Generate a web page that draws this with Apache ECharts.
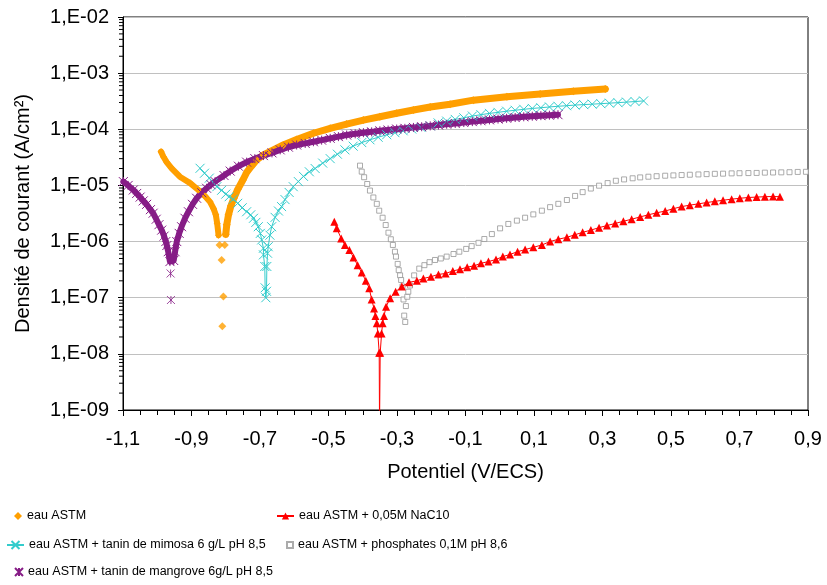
<!DOCTYPE html>
<html lang="fr">
<head>
<meta charset="UTF-8">
<title>Densité de courant - Potentiel</title>
<script src="https://cdn.jsdelivr.net/npm/echarts@6/dist/echarts.min.js"></script>
<style>
    html, body { margin: 0; padding: 0; background: #fff; }
    #chart { width: 827px; height: 585px; }
</style>
</head>
<body>
<div id="chart"></div>
<script>
// axes
var xMin = -1.1, xMax = 0.9, xStep = 0.2;
var yMin = 1e-9, yMax = 1e-2;
// log minor ticks (per decade)
var minorDecades = [-9, -8, -7, -6, -5, -4, -3];
var minorFactors = [2, 3, 4, 5, 6, 7, 8, 9];

var names = [
    'eau ASTM',
    'eau ASTM + 0,05M NaC10',
    'eau ASTM + tanin de mimosa 6 g/L pH 8,5',
    'eau ASTM + phosphates 0,1M pH 8,6',
    'eau ASTM + tanin de mangrove 6g/L pH 8,5'
];

// eau ASTM : [potentiel V/ECS, densité A/cm²]
var astmCathodic = [
    [-0.989, 4.0e-5], [-0.982, 3.24e-5], [-0.972, 2.58e-5], [-0.958, 2.02e-5], [-0.934, 1.43e-5],
    [-0.904, 1.1e-5], [-0.880, 8.3e-6], [-0.861, 6.5e-6], [-0.846, 5.1e-6], [-0.836, 3.9e-6],
    [-0.829, 3.0e-6], [-0.825, 2.1e-6], [-0.821, 1.3e-6]
];
var astmPoints = [
    [-0.818, 8.7e-7], [-0.812, 4.7e-7], [-0.807, 1.05e-7], [-0.810, 3.1e-8], [-0.803, 8.7e-7]
];
var astmAnodic = [
    [-0.800, 1.35e-6], [-0.797, 2.0e-6], [-0.792, 3.0e-6], [-0.785, 4.3e-6], [-0.776, 6.0e-6],
    [-0.765, 8.5e-6], [-0.750, 1.25e-5], [-0.739, 1.7e-5], [-0.725, 2.2e-5], [-0.710, 2.84e-5],
    [-0.690, 3.5e-5], [-0.671, 4.0e-5], [-0.632, 5.25e-5], [-0.593, 6.6e-5], [-0.544, 8.5e-5],
    [-0.495, 1.04e-4], [-0.447, 1.24e-4], [-0.398, 1.46e-4], [-0.350, 1.67e-4], [-0.301, 1.93e-4],
    [-0.252, 2.2e-4], [-0.203, 2.5e-4], [-0.145, 2.8e-4], [-0.077, 3.3e-4], [0.021, 3.8e-4],
    [0.118, 4.25e-4], [0.215, 4.75e-4], [0.308, 5.2e-4]
];

// eau ASTM + 0,05M NaC10
var nac10 = [
    [-0.483, 2.26e-6], [-0.476, 1.72e-6], [-0.463, 1.14e-6], [-0.452, 8.7e-7], [-0.439, 7.1e-7],
    [-0.427, 5.2e-7], [-0.415, 3.8e-7], [-0.403, 2.8e-7], [-0.391, 2.0e-7], [-0.381, 1.47e-7],
    [-0.374, 9.3e-8], [-0.367, 6.4e-8], [-0.363, 4.7e-8], [-0.359, 3.5e-8], [-0.356, 2.3e-8],
    [-0.352, 1.05e-8], [-0.351, 5e-10], [-0.349, 1.05e-8], [-0.345, 2.3e-8], [-0.342, 3.5e-8],
    [-0.338, 4.7e-8], [-0.332, 6.9e-8], [-0.320, 9.8e-8], [-0.304, 1.28e-7], [-0.286, 1.58e-7],
    [-0.265, 1.88e-7], [-0.242, 2.0e-7], [-0.223, 2.2e-7], [-0.201, 2.37e-7], [-0.179, 2.6e-7],
    [-0.158, 2.7e-7], [-0.137, 3.0e-7], [-0.116, 3.2e-7], [-0.095, 3.5e-7], [-0.075, 3.7e-7],
    [-0.055, 4.1e-7], [-0.033, 4.4e-7], [-0.011, 4.8e-7], [0.009, 5.4e-7], [0.030, 5.9e-7],
    [0.052, 6.6e-7], [0.074, 7.2e-7], [0.098, 7.9e-7], [0.123, 8.7e-7], [0.147, 1.0e-6],
    [0.171, 1.1e-6], [0.196, 1.19e-6], [0.219, 1.32e-6], [0.242, 1.46e-6], [0.266, 1.6e-6],
    [0.290, 1.77e-6], [0.313, 1.93e-6], [0.337, 2.1e-6], [0.361, 2.3e-6], [0.385, 2.5e-6],
    [0.410, 2.75e-6], [0.434, 3.0e-6], [0.458, 3.25e-6], [0.483, 3.5e-6], [0.507, 3.85e-6],
    [0.531, 4.2e-6], [0.555, 4.45e-6], [0.580, 4.7e-6], [0.604, 4.95e-6], [0.628, 5.2e-6],
    [0.652, 5.45e-6], [0.677, 5.7e-6], [0.701, 5.9e-6], [0.726, 6.1e-6], [0.750, 6.2e-6],
    [0.774, 6.3e-6], [0.798, 6.35e-6], [0.818, 6.3e-6]
];

// eau ASTM + tanin de mimosa
var mimosa = [
    [-0.875, 2.02e-5], [-0.862, 1.65e-5], [-0.848, 1.35e-5], [-0.836, 1.12e-5], [-0.826, 9.5e-6],
    [-0.812, 8.2e-6], [-0.800, 7.0e-6], [-0.790, 6.3e-6], [-0.778, 5.7e-6], [-0.765, 4.8e-6],
    [-0.752, 4.0e-6], [-0.739, 3.4e-6], [-0.727, 3.0e-6], [-0.719, 2.6e-6], [-0.712, 2.2e-6],
    [-0.705, 1.84e-6], [-0.699, 1.4e-6], [-0.695, 1.07e-6], [-0.690, 7.6e-7], [-0.690, 5.8e-7],
    [-0.686, 3.6e-7], [-0.685, 1.5e-7], [-0.683, 1.0e-7], [-0.681, 1.3e-7], [-0.680, 3.6e-7],
    [-0.678, 6.2e-7], [-0.676, 8.1e-7], [-0.671, 1.3e-6], [-0.666, 1.84e-6], [-0.656, 2.7e-6],
    [-0.646, 3.5e-6], [-0.637, 4.2e-6], [-0.627, 5.6e-6], [-0.615, 7.5e-6], [-0.603, 9.5e-6],
    [-0.588, 1.17e-5], [-0.573, 1.45e-5], [-0.556, 1.75e-5], [-0.539, 2.0e-5], [-0.517, 2.5e-5],
    [-0.495, 3.0e-5], [-0.474, 3.6e-5], [-0.452, 4.3e-5], [-0.428, 5.0e-5], [-0.403, 5.8e-5],
    [-0.379, 6.5e-5], [-0.355, 7.2e-5], [-0.330, 8.0e-5], [-0.306, 8.7e-5], [-0.282, 9.4e-5],
    [-0.257, 1.01e-4], [-0.230, 1.08e-4], [-0.203, 1.15e-4], [-0.180, 1.3e-4], [-0.155, 1.4e-4],
    [-0.130, 1.5e-4], [-0.105, 1.6e-4], [-0.080, 1.72e-4], [-0.055, 1.82e-4], [-0.030, 1.92e-4],
    [-0.005, 2.0e-4], [0.020, 2.1e-4], [0.045, 2.18e-4], [0.070, 2.27e-4], [0.095, 2.35e-4],
    [0.120, 2.42e-4], [0.145, 2.5e-4], [0.170, 2.57e-4], [0.195, 2.63e-4], [0.220, 2.7e-4],
    [0.245, 2.75e-4], [0.270, 2.8e-4], [0.295, 2.86e-4], [0.320, 2.92e-4], [0.345, 2.98e-4],
    [0.370, 3.05e-4], [0.395, 3.12e-4], [0.420, 3.2e-4]
];

// eau ASTM + phosphates
var phosphates = [
    [-0.408, 2.25e-5], [-0.403, 1.76e-5], [-0.396, 1.4e-5], [-0.387, 1.06e-5], [-0.379, 8.1e-6],
    [-0.369, 6.1e-6], [-0.359, 4.7e-6], [-0.352, 3.55e-6], [-0.342, 2.66e-6], [-0.333, 1.97e-6],
    [-0.325, 1.44e-6], [-0.318, 1.1e-6], [-0.312, 8.7e-7], [-0.306, 6.6e-7], [-0.303, 5.4e-7],
    [-0.298, 4.0e-7], [-0.295, 3.1e-7], [-0.291, 2.5e-7], [-0.288, 2.07e-7], [-0.284, 1.58e-7],
    [-0.281, 9.3e-8], [-0.279, 4.8e-8], [-0.276, 3.7e-8], [-0.274, 7.1e-8], [-0.270, 1.04e-7],
    [-0.267, 1.28e-7], [-0.262, 1.65e-7], [-0.250, 2.5e-7], [-0.235, 3.3e-7], [-0.220, 3.8e-7],
    [-0.205, 4.3e-7], [-0.189, 4.7e-7], [-0.172, 5.0e-7], [-0.155, 5.4e-7], [-0.135, 6.0e-7],
    [-0.118, 6.6e-7], [-0.098, 7.4e-7], [-0.082, 8.3e-7], [-0.062, 9.5e-7], [-0.045, 1.11e-6],
    [-0.023, 1.36e-6], [0.001, 1.72e-6], [0.025, 2.06e-6], [0.050, 2.36e-6], [0.074, 2.66e-6],
    [0.098, 3.05e-6], [0.123, 3.55e-6], [0.147, 4.1e-6], [0.171, 4.7e-6], [0.196, 5.5e-6],
    [0.220, 6.5e-6], [0.242, 7.6e-6], [0.266, 8.8e-6], [0.290, 9.9e-6], [0.315, 1.1e-5],
    [0.339, 1.21e-5], [0.363, 1.28e-5], [0.388, 1.34e-5], [0.410, 1.39e-5], [0.434, 1.43e-5],
    [0.458, 1.46e-5], [0.483, 1.49e-5], [0.507, 1.51e-5], [0.531, 1.53e-5], [0.555, 1.55e-5],
    [0.580, 1.57e-5], [0.604, 1.59e-5], [0.628, 1.61e-5], [0.652, 1.62e-5], [0.677, 1.64e-5],
    [0.700, 1.65e-5], [0.726, 1.66e-5], [0.750, 1.67e-5], [0.774, 1.69e-5], [0.798, 1.70e-5],
    [0.822, 1.71e-5], [0.846, 1.72e-5], [0.870, 1.74e-5], [0.894, 1.75e-5]
];

// eau ASTM + tanin de mangrove
var mangrove = [
    [-1.099, 1.17e-5], [-1.085, 1.0e-5], [-1.070, 8.3e-6], [-1.060, 7.2e-6], [-1.050, 6.2e-6],
    [-1.041, 5.3e-6], [-1.031, 4.6e-6], [-1.020, 3.7e-6], [-1.012, 3.2e-6], [-1.003, 2.5e-6],
    [-0.995, 2.0e-6], [-0.987, 1.6e-6], [-0.980, 1.25e-6], [-0.975, 1.0e-6], [-0.972, 8.5e-7],
    [-0.968, 6.6e-7], [-0.963, 4.4e-7], [-0.952, 4.6e-7], [-0.948, 6.6e-7], [-0.943, 1.0e-6],
    [-0.936, 1.4e-6], [-0.929, 1.84e-6], [-0.919, 2.6e-6], [-0.909, 3.4e-6], [-0.897, 4.6e-6],
    [-0.885, 5.9e-6], [-0.870, 7.4e-6], [-0.856, 8.9e-6], [-0.843, 1.03e-5], [-0.831, 1.17e-5],
    [-0.805, 1.5e-5], [-0.787, 1.8e-5], [-0.763, 2.2e-5], [-0.739, 2.6e-5], [-0.715, 3.0e-5],
    [-0.690, 3.4e-5], [-0.665, 3.8e-5], [-0.641, 4.3e-5], [-0.617, 4.8e-5], [-0.593, 5.25e-5],
    [-0.568, 5.6e-5], [-0.544, 6.0e-5], [-0.520, 6.4e-5], [-0.495, 6.9e-5], [-0.471, 7.4e-5],
    [-0.447, 7.9e-5], [-0.422, 8.3e-5], [-0.398, 8.7e-5], [-0.374, 9.0e-5], [-0.350, 9.4e-5],
    [-0.326, 9.7e-5], [-0.301, 1.01e-4], [-0.277, 1.04e-4], [-0.252, 1.08e-4], [-0.228, 1.11e-4],
    [-0.203, 1.15e-4], [-0.179, 1.19e-4], [-0.155, 1.23e-4], [-0.130, 1.27e-4], [-0.105, 1.32e-4],
    [-0.080, 1.37e-4], [-0.055, 1.42e-4], [-0.030, 1.47e-4], [-0.005, 1.52e-4], [0.020, 1.57e-4],
    [0.045, 1.62e-4], [0.070, 1.67e-4], [0.095, 1.71e-4], [0.120, 1.75e-4], [0.145, 1.78e-4],
    [0.170, 1.82e-4]
];
var mangrovePoints = [[-0.961, 2.7e-7], [-0.960, 9.1e-8]];

var orange = '#FF9F00', red = '#FF0000', cyan = '#33CCCC', grey = '#969696', purple = '#861C86';
var xMark = 'path://M0,0L10,10M10,0L0,10';
var starMark = 'path://M0,0L10,10M10,0L0,10M5,0L5,10';
var font = 'Liberation Sans, Arial, sans-serif';

function legendAt(name, left, top, w, h, icon) {
    var item = icon ? { name: name, icon: icon } : name;
    return {
        data: [item], left: left, top: top, itemWidth: w, itemHeight: h,
        orient: 'horizontal', padding: 0, selectedMode: false,
        textStyle: { fontFamily: font, fontSize: 12.5, color: '#000', lineHeight: 18 }
    };
}

// minor ticks of the log axis, placed through the y scale
function renderMinorTicks(params, api) {
    var d = api.value(0);
    var children = minorFactors.map(function (f) {
        var p = api.coord([xMin, f * Math.pow(10, d)]);
        return {
            type: 'line',
            shape: { x1: p[0] - 4, y1: p[1], x2: p[0], y2: p[1] },
            style: { stroke: '#000', lineWidth: 1 }
        };
    });
    return { type: 'group', children: children };
}

var chart = echarts.init(document.getElementById('chart'), null, { renderer: 'canvas' });
chart.setOption({
    animation: false,
    backgroundColor: '#fff',
    grid: { left: 123, right: 19, top: 17, bottom: 175, show: true, borderColor: '#000', borderWidth: 1 },
    legend: [
        legendAt(names[0], 14, 507, 8, 8, 'diamond'),
        legendAt(names[2], 6, 536, 17, 10),
        legendAt(names[4], 14, 563, 8, 8, starMark),
        legendAt(names[1], 276, 507, 17, 9),
        legendAt(names[3], 286, 536, 6, 6, 'rect')
    ],
    xAxis: {
        type: 'value', min: xMin, max: xMax, interval: xStep,
        axisLine: { onZero: false, lineStyle: { color: '#000', width: 1 } },
        axisTick: { length: 6, lineStyle: { color: '#000' } },
        minorTick: { show: true, splitNumber: 4, length: 5, lineStyle: { color: '#000' } },
        splitLine: { show: false },
        axisLabel: {
            fontFamily: font, fontSize: 20, color: '#000', margin: 19,
            formatter: function (v) { return v.toFixed(1).replace('.', ','); }
        },
        name: 'Potentiel (V/ECS)', nameLocation: 'middle', nameGap: 52,
        nameTextStyle: { fontFamily: font, fontSize: 20, color: '#000' }
    },
    yAxis: {
        type: 'log', logBase: 10, min: yMin, max: yMax, splitNumber: 7,
        axisLine: { show: true, onZero: false, lineStyle: { color: '#000', width: 1 } },
        axisTick: { show: true, length: 5, lineStyle: { color: '#000' } },
        splitLine: { show: true, lineStyle: { color: '#c0c0c0', width: 1 } },
        axisLabel: {
            fontFamily: font, fontSize: 20, color: '#000', margin: 14,
            formatter: function (v) {
                var e = Math.round(Math.log10(v));
                return '1,E-' + String(-e).padStart(2, '0');
            }
        },
        name: 'Densité de courant (A/cm²)', nameLocation: 'middle', nameGap: 90,
        nameTextStyle: { fontFamily: font, fontSize: 20, color: '#000' }
    },
    series: [
        {
            type: 'custom', data: minorDecades, clip: false, silent: true,
            renderItem: renderMinorTicks
        },
        {
            name: names[0], type: 'line', data: astmCathodic, symbol: 'diamond', symbolSize: 7,
            lineStyle: { color: orange, width: 6, cap: 'round', join: 'round' }, itemStyle: { color: orange }
        },
        {
            name: names[0], type: 'line', data: astmAnodic, symbol: 'diamond', symbolSize: 8,
            lineStyle: { color: orange, width: 7, cap: 'round', join: 'round' }, itemStyle: { color: orange }
        },
        {
            name: names[0], type: 'scatter', data: astmPoints, symbol: 'diamond', symbolSize: 8,
            itemStyle: { color: orange }
        },
        {
            name: names[1], type: 'line', data: nac10, symbol: 'triangle', symbolSize: 8,
            lineStyle: { color: red, width: 1 }, itemStyle: { color: red }
        },
        {
            name: names[2], type: 'line', data: mimosa, symbol: xMark, symbolSize: 9,
            lineStyle: { color: cyan, width: 1 },
            itemStyle: { color: cyan, borderColor: cyan, borderWidth: 1 }
        },
        {
            name: names[3], type: 'scatter', data: phosphates, symbol: 'rect', symbolSize: 5,
            itemStyle: { color: '#fff', borderColor: grey, borderWidth: 1 }
        },
        {
            name: names[4], type: 'line', data: mangrove, symbol: starMark, symbolSize: 9,
            lineStyle: { color: purple, width: 6, cap: 'round', join: 'round' },
            itemStyle: { color: purple, borderColor: purple, borderWidth: 1 }
        },
        {
            name: names[4], type: 'scatter', data: mangrovePoints, symbol: starMark, symbolSize: 8,
            itemStyle: { color: purple, borderColor: purple, borderWidth: 1 }
        }
    ]
});
</script>
</body>
</html>
